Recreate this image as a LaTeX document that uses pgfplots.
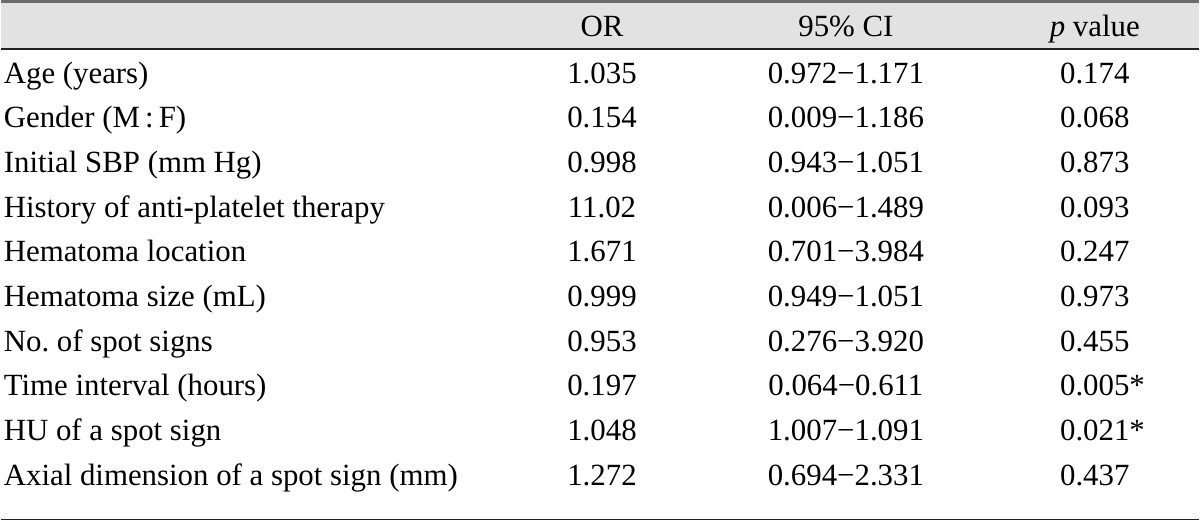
\documentclass[border=0pt]{standalone}
\usepackage{pgfplots}
\usepackage{pgfplotstable}
\pgfplotsset{compat=1.18}
\usepackage{fontspec}
\setmainfont{Liberation Serif}
\definecolor{hdr}{HTML}{E2E2E2}
\definecolor{topr}{HTML}{6A6A6A}
\definecolor{rulec}{HTML}{222222}

% first column (left aligned)
\pgfplotstableread[col sep=comma]{
x,y,label
7,86,Age (years)
7,130,Gender (M\,:\,F)
7,175,Initial SBP (mm Hg)
7,219,History of anti-platelet therapy
7,263,Hematoma location
7,308,Hematoma size (mL)
7,352,No.\ of spot signs
7,396,Time interval (hours)
7,441,HU of a spot sign
7,485,Axial dimension of a spot sign (mm)
}\labels

% centred cells: header and values
\pgfplotstableread[col sep=comma]{
x,y,label
601,40,OR
843,40,95\% CI
1090,40,{\textit{p} value}
601,86,1.035
601,130,0.154
601,175,0.998
601,219,11.02
601,263,1.671
601,308,0.999
601,352,0.953
601,396,0.197
601,441,1.048
601,485,1.272
843,86,0.972−1.171
843,130,0.009−1.186
843,175,0.943−1.051
843,219,0.006−1.489
843,263,0.701−3.984
843,308,0.949−1.051
843,352,0.276−3.920
843,396,0.064−0.611
843,441,1.007−1.091
843,485,0.694−2.331
1090,86,0.174
1090,130,0.068
1090,175,0.873
1090,219,0.093
1090,263,0.247
1090,308,0.973
1090,352,0.455
1090,396,0.005\rlap{*}
1090,441,0.021\rlap{*}
1090,485,0.437
}\cells

\begin{document}
\begin{tikzpicture}
\begin{axis}[
  width=600pt, height=262pt, scale only axis,
  xmin=0, xmax=1200, ymin=0, ymax=524, y dir=reverse,
  hide axis, clip=false,
  every node near coord/.append style={font=\fontsize{15.3}{18}\selectfont, inner sep=0pt, text=black},
]
\fill[hdr] (axis cs:5,6) rectangle (axis cs:1193,52);
\draw[topr, line width=1.4pt] (axis cs:5,5) -- (axis cs:1193,5);
\draw[rulec, line width=0.75pt] (axis cs:5,52) -- (axis cs:1193,52);
\draw[rulec, line width=0.75pt] (axis cs:5,519) -- (axis cs:1193,519);

\addplot[only marks, mark=*, mark size=0pt, mark options={draw=none, fill=none},
  point meta=explicit symbolic, nodes near coords,
  every node near coord/.append style={anchor=base west}]
  table[x=x, y=y, meta=label] {\labels};
\addplot[only marks, mark=*, mark size=0pt, mark options={draw=none, fill=none},
  point meta=explicit symbolic, nodes near coords,
  every node near coord/.append style={anchor=base}]
  table[x=x, y=y, meta=label] {\cells};
\end{axis}
\end{tikzpicture}
\end{document}
